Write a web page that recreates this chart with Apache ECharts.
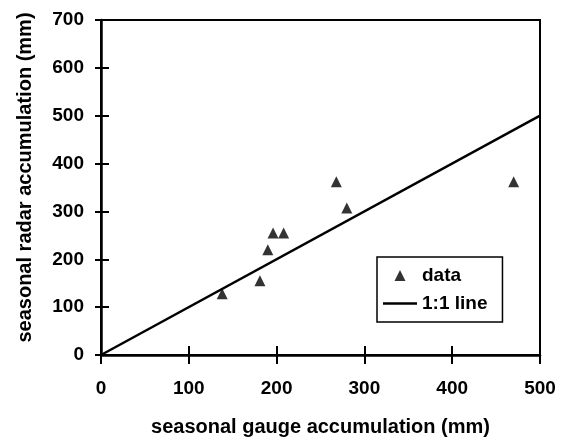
<!DOCTYPE html>
<html>
<head>
<meta charset="utf-8">
<script src="https://cdn.jsdelivr.net/npm/echarts@6/dist/echarts.min.js"></script>
<style>html,body{margin:0;padding:0;background:#fff;}#c{width:561px;height:442px;}</style>
</head>
<body>
<div id="c"></div>
<script>
const gaugeValues = [138, 181, 190, 196, 208, 268, 280, 470];
const radarValues = [128, 155, 220, 255, 255, 362, 307, 362];
const oneToOneLine = [[0, 0], [500, 500]];
const xTicks = [0, 100, 200, 300, 400, 500];
const yTicks = [0, 100, 200, 300, 400, 500, 600, 700];
const xTitle = 'seasonal gauge accumulation (mm)';
const yTitle = 'seasonal radar accumulation (mm)';

const FONT = 'Liberation Sans';
const chart = echarts.init(document.getElementById('c'), null, {renderer: 'canvas'});
const scatterData = gaugeValues.map((g, i) => [g, radarValues[i]]);
const axisCommonX = {type: 'value', min: 0, max: 500, interval: 100, splitLine: {show: false}};
const axisCommonY = {type: 'value', min: 0, max: 700, interval: 100, splitLine: {show: false}};
chart.setOption({
  animation: false,
  backgroundColor: '#fff',
  grid: {left: 101, right: 21, top: 20, bottom: 85, show: true, borderColor: '#000', borderWidth: 2, backgroundColor: 'transparent'},
  xAxis: [
    Object.assign({}, axisCommonX, {
      position: 'bottom',
      name: xTitle, nameLocation: 'middle', nameGap: 62,
      nameTextStyle: {fontFamily: FONT, fontWeight: 'bold', fontSize: 20, color: '#000'},
      axisLine: {lineStyle: {color: '#000', width: 2.5}},
      axisTick: {inside: false, length: 9, lineStyle: {color: '#000', width: 2}},
      axisLabel: {margin: 24, fontFamily: FONT, fontWeight: 'bold', fontSize: 19, color: '#000',
        formatter: v => xTicks.includes(v) ? String(v) : ''}
    }),
    Object.assign({}, axisCommonX, {
      position: 'bottom',
      axisLine: {show: false},
      axisTick: {inside: true, length: 9, lineStyle: {color: '#000', width: 2}},
      axisLabel: {show: false}
    })
  ],
  yAxis: [
    Object.assign({}, axisCommonY, {
      position: 'left',
      name: yTitle, nameLocation: 'middle', nameGap: 66,
      nameTextStyle: {fontFamily: FONT, fontWeight: 'bold', fontSize: 20, color: '#000', padding: [0, 0, 0, 20]},
      axisLine: {lineStyle: {color: '#000', width: 2.5}},
      axisTick: {inside: false, length: 6, lineStyle: {color: '#000', width: 2}},
      axisLabel: {margin: 17, fontFamily: FONT, fontWeight: 'bold', fontSize: 19, color: '#000',
        formatter: v => yTicks.includes(v) ? String(v) : ''}
    }),
    Object.assign({}, axisCommonY, {
      position: 'left',
      axisLine: {show: false},
      axisTick: {inside: true, length: 8, lineStyle: {color: '#000', width: 2}},
      axisLabel: {show: false}
    })
  ],
  legend: {
    orient: 'vertical', left: 377, top: 257,
    padding: [9, 15, 9, 6], itemGap: 9,
    itemWidth: 34, itemHeight: 11,
    symbolKeepAspect: true,
    borderColor: '#000', borderWidth: 1.5,
    textStyle: {fontFamily: FONT, fontWeight: 'bold', fontSize: 19, color: '#000'},
    data: [
      {name: 'data', icon: 'path://M5,0 L10,10 L0,10 Z', itemStyle: {color: '#000'}},
      {name: '1:1 line', icon: 'path://M0,0 H40 V3 H0 Z', itemStyle: {color: '#000'}}
    ]
  },
  series: [
    {
      name: '1:1 line', type: 'line', xAxisIndex: 0, yAxisIndex: 0,
      data: oneToOneLine, symbol: 'none', showSymbol: false,
      lineStyle: {color: '#000', width: 2.5}, itemStyle: {color: '#000'}, z: 2
    },
    {
      name: 'data', type: 'scatter', xAxisIndex: 0, yAxisIndex: 0,
      data: scatterData, symbol: 'triangle', symbolSize: [11, 11],
      itemStyle: {color: '#000'}, z: 3
    }
  ]
});
</script>
</body>
</html>
